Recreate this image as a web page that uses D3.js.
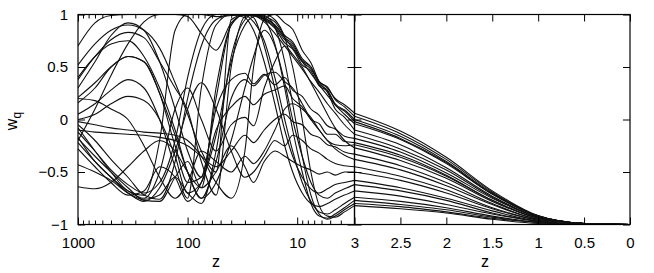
<!DOCTYPE html>
<html><head><meta charset="utf-8">
<script src="https://cdn.jsdelivr.net/npm/d3@7/dist/d3.min.js"></script>
<style>
body{margin:0;background:#fff;}
text{font-family:"Liberation Sans",Arial,Helvetica,sans-serif;fill:#000;}
</style></head>
<body><svg id="chart" width="654" height="273"></svg>
<script>
// ---- data ----
const zLeft  = [1000, 700, 500, 350, 250, 180, 130, 100, 75, 55, 40, 30, 25, 20, 16, 13, 11, 9, 7.5, 6.3, 5.3, 4.5, 3.7, 3];
const zRight = [3, 2.5, 2, 1.5, 1, 0.5, 0];
const xTicksLeft  = [1000, 100, 10];
const xTicksRight = [3, 2.5, 2, 1.5, 1, 0.5, 0];
const yTicks = [1, 0.5, 0, -0.5, -1];

const c01L=[0.70,0.92,0.99,1.00,1.00,1.00,1.00,1.00,1.00,1.00,1.00,1.00,0.99,0.96,0.88,0.76,0.70,0.55,0.48,0.36,0.30,0.20,0.14,0.06];
const c01R=[0.06,-0.11,-0.36,-0.68,-0.915,-0.99,-1];
const c02L=[0.52,0.72,0.85,0.90,0.85,0.68,0.35,0.05,-0.30,-0.50,0.95,1.00,1.00,0.97,0.90,0.78,0.72,0.56,0.50,0.36,0.31,0.19,0.12,0.03];
const c02R=[0.03,-0.135,-0.38,-0.69,-0.92,-0.99,-1];
const c03L=[0.38,0.60,0.76,0.83,0.78,0.55,0.30,0.09,-0.40,-0.72,0.50,0.98,1.00,0.98,0.93,0.80,0.74,0.58,0.50,0.34,0.28,0.15,0.09,0.00];
const c03R=[0.00,-0.16,-0.40,-0.70,-0.92,-0.99,-1];
const c04L=[-0.20,0.10,0.42,0.72,0.93,1.00,1.00,0.98,0.82,0.66,0.92,1.00,1.00,0.97,0.90,0.78,0.68,0.55,0.44,0.33,0.23,0.14,0.05,-0.04];
const c04R=[-0.04,-0.19,-0.42,-0.71,-0.92,-0.99,-1];
const c05L=[-0.02,-0.05,-0.08,-0.10,-0.12,-0.13,-0.15,-0.20,-0.35,-0.60,-0.75,-0.30,0.50,0.95,1.00,0.92,0.86,0.66,0.54,0.36,0.26,0.10,0.02,-0.10];
const c05R=[-0.10,-0.24,-0.46,-0.73,-0.93,-0.99,-1];
const c06L=[-0.08,-0.30,-0.50,-0.68,-0.72,-0.20,0.85,1.00,1.00,0.98,0.99,1.00,0.99,0.93,0.82,0.70,0.60,0.48,0.36,0.26,0.15,0.06,-0.05,-0.14];
const c06R=[-0.14,-0.28,-0.48,-0.74,-0.93,-0.99,-1];
const c07L=[0.16,0.30,0.50,0.60,0.55,0.25,-0.25,-0.60,-0.55,0.10,0.38,0.44,0.34,0.43,0.33,0.40,0.28,0.22,0.10,0.04,-0.06,-0.09,-0.16,-0.18];
const c07R=[-0.18,-0.31,-0.51,-0.75,-0.93,-0.99,-1];
const c08L=[0.00,0.05,0.15,0.22,0.18,0.00,-0.35,-0.70,-0.60,-0.10,0.12,0.22,0.14,0.24,0.28,0.32,0.20,0.12,0.00,-0.04,-0.14,-0.14,-0.21,-0.22];
const c08R=[-0.22,-0.34,-0.53,-0.77,-0.94,-0.99,-1];
const c09L=[-0.17,-0.40,-0.55,-0.68,-0.75,-0.50,0.10,0.30,0.00,-0.30,-0.05,0.02,-0.06,0.30,0.55,0.70,0.62,0.50,0.35,0.20,0.05,-0.08,-0.20,-0.27];
const c09R=[-0.27,-0.39,-0.56,-0.78,-0.94,-0.99,-1];
const c10L=[-0.10,-0.12,-0.13,-0.14,-0.15,-0.17,-0.20,-0.25,-0.35,-0.45,-0.30,-0.15,-0.22,-0.10,0.00,0.05,-0.02,-0.05,-0.14,-0.17,-0.24,-0.26,-0.31,-0.33];
const c10R=[-0.33,-0.44,-0.60,-0.80,-0.95,-0.99,-1];
const c11L=[0.20,0.18,0.10,0.00,-0.25,-0.55,-0.75,-0.60,-0.30,-0.40,-0.50,-0.35,-0.42,-0.30,-0.10,0.10,0.15,0.10,0.02,-0.10,-0.20,-0.28,-0.34,-0.38];
const c11R=[-0.38,-0.48,-0.63,-0.81,-0.95,-0.99,-1];
const c12L=[-0.43,-0.50,-0.58,-0.70,-0.78,-0.65,-0.30,0.10,0.35,0.10,-0.30,-0.55,-0.50,-0.35,-0.20,-0.25,-0.15,-0.20,-0.28,-0.32,-0.38,-0.42,-0.44,-0.45];
const c12R=[-0.45,-0.54,-0.67,-0.84,-0.96,-1,-1];
const c13L=[-0.64,-0.66,-0.60,-0.45,-0.30,-0.20,-0.30,-0.50,-0.65,-0.50,-0.25,-0.45,-0.60,-0.40,-0.30,-0.35,-0.40,-0.45,-0.48,-0.52,-0.50,-0.53,-0.50,-0.50];
const c13R=[-0.50,-0.58,-0.70,-0.85,-0.96,-1,-1];
const c14L=[0.30,0.55,0.80,0.92,0.85,0.55,0.10,-0.30,-0.55,0.20,0.90,1.00,0.97,0.70,0.30,-0.10,-0.35,-0.55,-0.66,-0.70,-0.66,-0.62,-0.60,-0.58];
const c14R=[-0.58,-0.65,-0.75,-0.87,-0.97,-1,-1];
const c15L=[-0.05,-0.20,-0.38,-0.55,-0.72,-0.76,-0.40,0.20,0.70,0.95,1.00,0.97,0.85,0.55,0.15,-0.25,-0.50,-0.70,-0.80,-0.83,-0.80,-0.76,-0.72,-0.68];
const c15R=[-0.68,-0.73,-0.81,-0.90,-0.97,-1,-1];
const c16L=[-0.12,-0.30,-0.48,-0.62,-0.70,-0.60,-0.20,0.40,0.85,1.00,1.00,0.99,0.93,0.75,0.40,0.00,-0.30,-0.60,-0.78,-0.88,-0.90,-0.86,-0.80,-0.74];
const c16R=[-0.74,-0.78,-0.84,-0.92,-0.98,-1,-1];
const c17L=[-0.18,-0.35,-0.50,-0.65,-0.77,-0.78,-0.55,-0.40,-0.65,0.30,0.90,1.00,1.00,0.95,0.72,0.30,-0.10,-0.50,-0.80,-0.92,-0.94,-0.90,-0.84,-0.77];
const c17R=[-0.77,-0.81,-0.86,-0.93,-0.98,-1,-1];
const c18L=[-0.22,-0.40,-0.55,-0.70,-0.76,-0.72,-0.55,-0.70,-0.80,-0.30,0.60,0.95,1.00,0.99,0.88,0.55,0.15,-0.35,-0.72,-0.90,-0.95,-0.92,-0.86,-0.80];
const c18R=[-0.80,-0.83,-0.88,-0.94,-0.98,-1,-1];
const c19L=[-0.28,-0.45,-0.60,-0.72,-0.68,-0.45,-0.55,-0.78,-0.60,-0.15,0.55,0.90,0.98,1.00,0.95,0.78,0.50,0.00,-0.50,-0.82,-0.92,-0.93,-0.88,-0.82];
const c19R=[-0.82,-0.85,-0.89,-0.95,-0.99,-1,-1];
const c20L=[0.21,0.35,0.50,0.60,0.55,0.25,-0.15,-0.50,-0.75,-0.60,-0.20,0.30,0.60,0.85,0.70,0.35,0.00,-0.35,-0.60,-0.72,-0.75,-0.70,-0.66,-0.62];
const c20R=[-0.62,-0.68,-0.77,-0.89,-0.97,-1,-1];
const c21L=[0.05,0.15,0.28,0.38,0.30,0.00,-0.45,-0.75,0.30,0.90,1.00,1.00,0.99,0.95,0.87,0.73,0.67,0.52,0.46,0.32,0.27,0.14,0.08,-0.02];
const c21R=[-0.02,-0.18,-0.41,-0.71,-0.92,-0.99,-1];
const c22L=[0.40,0.60,0.72,0.75,0.60,0.30,-0.10,-0.50,-0.75,-0.40,0.20,0.38,0.32,0.42,0.45,0.36,0.30,0.15,0.00,-0.10,-0.20,-0.24,-0.25,-0.24];
const c22R=[-0.24,-0.36,-0.54,-0.77,-0.94,-0.99,-1];

const curves = [[c01L,c01R],[c02L,c02R],[c03L,c03R],[c04L,c04R],[c05L,c05R],[c06L,c06R],
  [c07L,c07R],[c08L,c08R],[c09L,c09R],[c10L,c10R],[c11L,c11R],[c12L,c12R],[c13L,c13R],
  [c14L,c14R],[c15L,c15R],[c16L,c16R],[c17L,c17R],[c18L,c18R],[c19L,c19R],[c20L,c20R],
  [c21L,c21R],[c22L,c22R]];

// ---- layout ----
const svg = d3.select("#chart");
const X0 = 78, XM = 354.5, X1 = 630, Y0 = 14.5, Y1 = 224.5;
const xL = d3.scaleLog().domain([1000, 3]).range([X0, XM]);
const xR = d3.scaleLinear().domain([3, 0]).range([XM, X1]);
const y = d3.scaleLinear().domain([-1, 1]).range([Y1, Y0]);

const defs = svg.append("defs");
defs.append("clipPath").attr("id","clipL").append("rect").attr("x",X0).attr("y",Y0-1).attr("width",XM-X0).attr("height",Y1-Y0+2);
defs.append("clipPath").attr("id","clipR").append("rect").attr("x",XM).attr("y",Y0-1).attr("width",X1-XM).attr("height",Y1-Y0+2);

const lineL = d3.line().x(d=>xL(d[0])).y(d=>y(d[1])).curve(d3.curveMonotoneX);
const lineR = d3.line().x(d=>xR(d[0])).y(d=>y(d[1])).curve(d3.curveMonotoneX);

const gL = svg.append("g").attr("clip-path","url(#clipL)");
const gR = svg.append("g").attr("clip-path","url(#clipR)");
curves.forEach(c=>{
  gL.append("path").attr("d", lineL(zLeft.map((z,i)=>[z,c[0][i]])))
    .attr("fill","none").attr("stroke","#111").attr("stroke-width",1.1);
  gR.append("path").attr("d", lineR(zRight.map((z,i)=>[z,c[1][i]])))
    .attr("fill","none").attr("stroke","#111").attr("stroke-width",1.1);
});

// ---- axes ----
function styleAxis(g){
  g.select(".domain").remove();
  g.selectAll("line").attr("stroke","#000").attr("stroke-width",1);
  g.selectAll("text").attr("font-size","15px").attr("font-family","Liberation Sans, Arial, sans-serif");
}
const minorLeft = [];
[100,10,1].forEach(b=>{for(let k=9;k>=2;k--){const v=k*b; if(v<1000 && v>3) minorLeft.push(v);}});

svg.append("g").attr("transform",`translate(0,${Y1})`)
  .call(d3.axisBottom(xL).tickValues(xTicksLeft).tickFormat(d3.format("d")).tickSizeInner(-7).tickSizeOuter(0).tickPadding(13))
  .call(styleAxis);
svg.append("g").attr("transform",`translate(0,${Y1})`)
  .call(d3.axisBottom(xL).tickValues(minorLeft).tickFormat("").tickSizeInner(-4).tickSizeOuter(0))
  .call(styleAxis);
svg.append("g").attr("transform",`translate(0,${Y0})`)
  .call(d3.axisTop(xL).tickValues(xTicksLeft).tickFormat("").tickSizeInner(-7).tickSizeOuter(0))
  .call(styleAxis);
svg.append("g").attr("transform",`translate(0,${Y0})`)
  .call(d3.axisTop(xL).tickValues(minorLeft).tickFormat("").tickSizeInner(-4).tickSizeOuter(0))
  .call(styleAxis);
svg.append("g").attr("transform",`translate(0,${Y1})`)
  .call(d3.axisBottom(xR).tickValues(xTicksRight).tickFormat(d3.format("")).tickSizeInner(-7).tickSizeOuter(0).tickPadding(13))
  .call(styleAxis);
svg.append("g").attr("transform",`translate(0,${Y0})`)
  .call(d3.axisTop(xR).tickValues(xTicksRight).tickFormat("").tickSizeInner(-7).tickSizeOuter(0))
  .call(styleAxis);
svg.append("g").attr("transform",`translate(${X0},0)`)
  .call(d3.axisLeft(y).tickValues(yTicks).tickFormat(d3.format("")).tickSizeInner(-7).tickSizeOuter(0).tickPadding(10))
  .call(styleAxis);
svg.append("g").attr("transform",`translate(${XM},0)`)
  .call(d3.axisLeft(y).tickValues(yTicks).tickFormat("").tickSizeInner(7).tickSizeOuter(0))
  .call(styleAxis);
svg.append("g").attr("transform",`translate(${XM},0)`)
  .call(d3.axisRight(y).tickValues(yTicks).tickFormat("").tickSizeInner(7).tickSizeOuter(0))
  .call(styleAxis);
svg.append("g").attr("transform",`translate(${X1},0)`)
  .call(d3.axisRight(y).tickValues(yTicks).tickFormat("").tickSizeInner(-7).tickSizeOuter(0))
  .call(styleAxis);

svg.append("rect").attr("x",X0).attr("y",Y0).attr("width",XM-X0).attr("height",Y1-Y0).attr("fill","none").attr("stroke","#000").attr("stroke-width",1.2);
svg.append("rect").attr("x",XM).attr("y",Y0).attr("width",X1-XM).attr("height",Y1-Y0).attr("fill","none").attr("stroke","#000").attr("stroke-width",1.2);

svg.append("text").attr("x",216).attr("y",267).attr("text-anchor","middle").attr("font-size","16px").text("z");
svg.append("text").attr("x",485).attr("y",267).attr("text-anchor","middle").attr("font-size","16px").text("z");
const yl = svg.append("text").attr("transform","translate(17,121) rotate(-90)").attr("text-anchor","middle").attr("font-size","16px");
yl.append("tspan").text("w");
yl.append("tspan").attr("font-size","12px").attr("dy","4").text("q");
</script></body></html>
